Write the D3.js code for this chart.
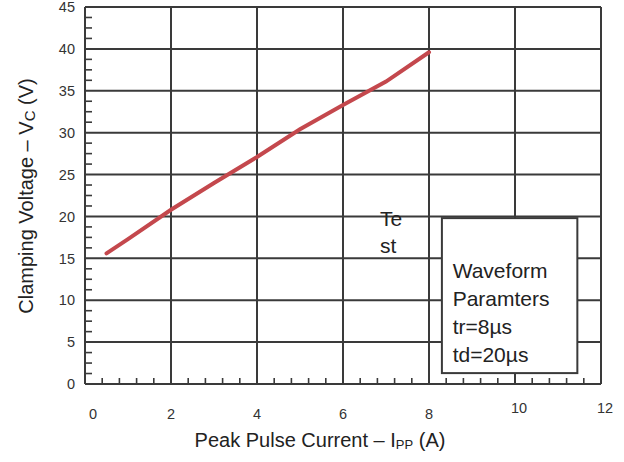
<!DOCTYPE html>
<html lang="en">
<head>
<meta charset="UTF-8">
<script src="https://cdn.jsdelivr.net/npm/d3@7"></script>
<style>
    body { margin: 0; background: #fff; }
    svg { font-family: "Liberation Sans", Arial, sans-serif; }
    .grid line { stroke: #3a3a3a; stroke-width: 2px; }
    .tick-label { font-size: 14.5px; fill: #333; }
    .title { font-size: 20px; fill: #222; }
    .note { font-size: 21px; fill: #222; }
</style>
</head>
<body>
<svg id="chart" width="624" height="462"></svg>
<script>
    // curve
    const current = [0.5, 1, 2, 3, 4, 5, 6, 7, 8];
    const voltage = [15.6, 17.3, 20.8, 24.0, 27.1, 30.4, 33.3, 36.1, 39.6];
    const xTicks = [0, 2, 4, 6, 8, 10, 12];
    const yTicks = [0, 5, 10, 15, 20, 25, 30, 35, 40, 45];
    const boxLines = ["Waveform", "Paramters", "tr=8\u00b5s", "td=20\u00b5s"];

    const svg = d3.select("#chart");
    const margin = { top: 7, right: 23, bottom: 78, left: 85 };
    const width = 624 - margin.left - margin.right;
    const height = 462 - margin.top - margin.bottom;

    const x = d3.scaleLinear().domain([0, 12]).range([0, width]);
    const y = d3.scaleLinear().domain([0, 45]).range([height, 0]);

    const g = svg.append("g").attr("transform", "translate(" + margin.left + "," + margin.top + ")");

    // minor ticks: 4 per x major, 3 per y major
    const xMinor = d3.range(0, 12.001, 0.4).filter(d => Math.abs(d / 2 - Math.round(d / 2)) > 0.01);
    const yMinor = d3.range(0, 45.001, 1.25).filter(d => Math.abs(d / 5 - Math.round(d / 5)) > 0.01);
    g.append("g").selectAll("line").data(xMinor).enter().append("line")
        .attr("x1", d => x(d)).attr("x2", d => x(d))
        .attr("y1", height).attr("y2", height - 6)
        .attr("stroke", "#3a3a3a").attr("stroke-width", 1.6);
    g.append("g").selectAll("line").data(yMinor).enter().append("line")
        .attr("y1", d => y(d)).attr("y2", d => y(d))
        .attr("x1", 0).attr("x2", 7)
        .attr("stroke", "#3a3a3a").attr("stroke-width", 1.6);

    // grid
    const grid = g.append("g").attr("class", "grid");
    grid.selectAll(".v").data(xTicks).enter().append("line")
        .attr("class", "v")
        .attr("x1", d => x(d)).attr("x2", d => x(d))
        .attr("y1", 0).attr("y2", height);
    grid.selectAll(".h").data(yTicks).enter().append("line")
        .attr("class", "h")
        .attr("x1", 0).attr("x2", width)
        .attr("y1", d => y(d)).attr("y2", d => y(d));

    // tick labels
    g.selectAll(".xl").data(xTicks).enter().append("text")
        .attr("class", "tick-label")
        .attr("x", d => x(d) + (d === 0 ? 8 : d >= 10 ? 4 : 0))
        .attr("y", d => height + (d >= 10 ? 29 : 35))
        .attr("text-anchor", "middle")
        .text(d => d);
    g.selectAll(".yl").data(yTicks).enter().append("text")
        .attr("class", "tick-label")
        .attr("x", -10)
        .attr("y", d => y(d))
        .attr("dy", "0.36em")
        .attr("text-anchor", "end")
        .text(d => d);

    // curve
    const line = d3.line().x((d, i) => x(current[i])).y(d => y(d));
    g.append("path")
        .datum(voltage)
        .attr("fill", "none")
        .attr("stroke", "#c4484d")
        .attr("stroke-width", 4)
        .attr("stroke-linecap", "round")
        .attr("d", line);

    // "Te st" note
    g.append("text").attr("class", "note").attr("x", x(6.86)).attr("y", y(18.8)).text("Te");
    g.append("text").attr("class", "note").attr("x", x(6.86)).attr("y", y(15.6)).text("st");

    // waveform box
    const box = g.append("g");
    box.append("rect")
        .attr("x", x(8.3)).attr("y", y(19.8))
        .attr("width", x(11.45) - x(8.3)).attr("height", y(1.3) - y(19.8))
        .attr("fill", "#fff").attr("stroke", "#3a3a3a").attr("stroke-width", 2);
    box.selectAll("text").data(boxLines).enter().append("text")
        .attr("class", "note")
        .attr("x", x(8.55))
        .attr("y", (d, i) => y(12.6) + i * 28)
        .text(d => d);

    // axis titles
    const xt = svg.append("text").attr("class", "title")
        .attr("x", 320).attr("y", 447).attr("text-anchor", "middle");
    xt.append("tspan").text("Peak Pulse Current \u2013 I");
    xt.append("tspan").attr("font-size", "13px").attr("dy", 2).text("PP");
    xt.append("tspan").attr("dy", -2).text(" (A)");

    const yt = svg.append("text").attr("class", "title")
        .attr("font-size", "22.5px")
        .attr("transform", "translate(33,196) rotate(-90)")
        .attr("text-anchor", "middle");
    yt.append("tspan").text("Clamping Voltage \u2013 V");
    yt.append("tspan").attr("font-size", "15px").attr("dy", 2).text("C");
    yt.append("tspan").attr("dy", -2).text(" (V)");
</script>
</body>
</html>
